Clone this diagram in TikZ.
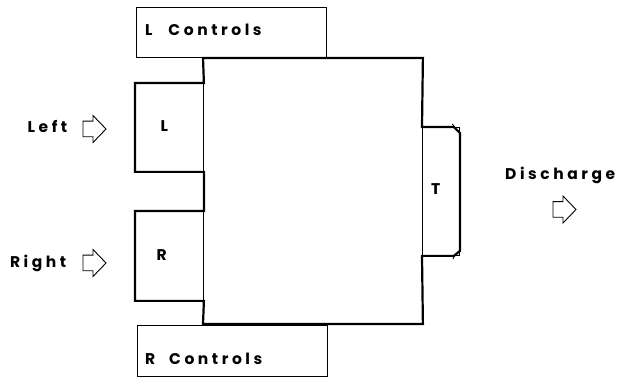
\documentclass[tikz,border=0pt]{standalone}
\usepackage{fontspec}
\usetikzlibrary{calc}
\newfontfamily\plotfont[LetterSpace=23]{Poppins}
\begin{document}
\begin{tikzpicture}[x=1pt,y=-1pt,
  thinln/.style={line width=0.9pt},
  thickln/.style={line width=2.2pt,line join=miter},
  boxnode/.style={draw,thinln,inner sep=0,anchor=north west},
  lbl/.style={font=\plotfont\bfseries\fontsize{15.5}{17}\selectfont,inner sep=0,anchor=base west},
  blockarrow/.pic={\draw[thinln,line join=miter] (0,-7.8) -- (10,-7.8) -- (10,-13.5) -- (23,0) -- (10,13.5) -- (10,7.8) -- (0,7.8) -- cycle;}]
\useasboundingbox (0,0) rectangle (621,379);

% control panels
\node[boxnode,minimum width=190,minimum height=50] (lctl) at (136,7) {};
\node[boxnode,minimum width=190,minimum height=51] (rctl) at (137,325) {};

% tank body and attached chambers
\node[boxnode,minimum width=219,minimum height=265] (main) at (203,58) {};
\node[boxnode,minimum width=68,minimum height=88] (lbox) at (135,83) {};
\node[boxnode,minimum width=68,minimum height=89] (rbox) at (135,211) {};
\node[boxnode,minimum width=37,minimum height=128] (tbox) at (422,127) {};

% heavy outer contour
\draw[thickln] (main.north west) -- (main.north east) -- (tbox.north west)
  -- ($(tbox.north east)+(-6,0)$) -- ($(tbox.north east)+(0,6)$)
  -- ($(tbox.south east)+(0,-5)$) -- ($(tbox.south east)+(-6,0)$)
  -- (tbox.south west) -- (main.south east) -- (main.south west)
  -- (rbox.south east) -- (rbox.south west) -- (rbox.north west) -- (rbox.north east)
  -- (lbox.south east) -- (lbox.south west) -- (lbox.north west) -- (lbox.north east)
  -- cycle;
% small ticks at the outlet corners
\draw[thinln] ($(tbox.north east)+(-7.5,-3)$) -- ($(tbox.north east)+(-5,0.5)$);
\draw[thinln] ($(tbox.south east)+(-5,-0.5)$) -- ($(tbox.south east)+(-7,3)$);

% labels
\node[lbl] (lctltxt) at (145,36) {L\hspace{9pt} Controls};
\node[lbl] (rctltxt) at (145,364) {R\hspace{7pt} Controls};
\node[lbl] (ltxt) at (160.5,131.7) {L};
\node[lbl] (rtxt) at (156.3,261) {R};
\node[lbl] (ttxt) at (431,195) {T};
\node[lbl] (lefttxt) at (27.5,132.7) {Left};
\node[lbl] (righttxt) at (9.8,267.7) {Right};
\node[lbl] (distxt) at (505,179.3) {Discharge};

% flow arrows
\pic at (83,129) {blockarrow};
\pic at (83,263) {blockarrow};
\pic at (553,209.5) {blockarrow};
\end{tikzpicture}
\end{document}
